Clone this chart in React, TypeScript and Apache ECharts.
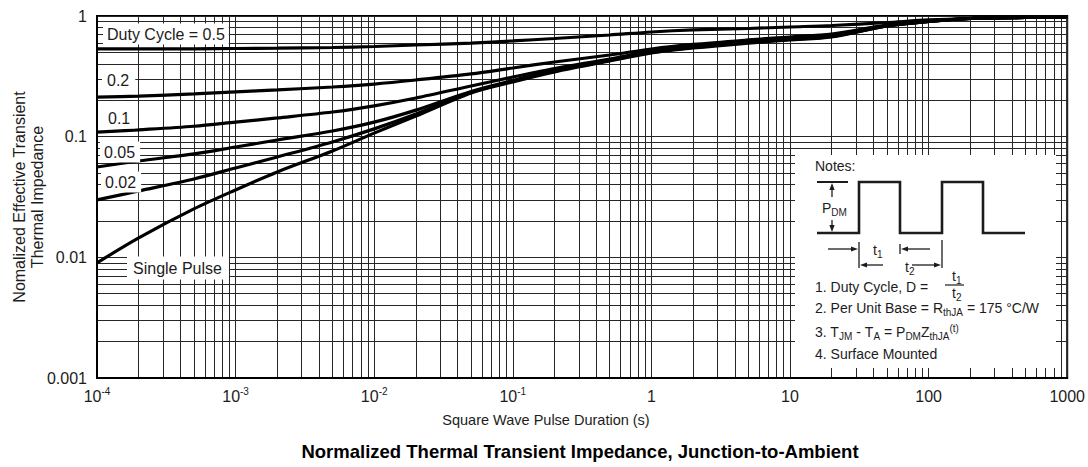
import React, { useEffect, useRef } from 'react';
import * as echarts from 'echarts';

// Pulse durations (s) at which the curves were read
const pulseDuration = [1e-4, 2e-4, 5e-4, 1e-3, 2e-3, 5e-3, 1e-2, 2e-2, 5e-2, 0.1, 0.2, 0.5, 1, 2, 5, 10, 20, 50, 100, 200, 500, 1000];

// Normalized effective transient thermal impedance for each duty cycle
const duty050 = [0.533, 0.533, 0.535, 0.538, 0.541, 0.548, 0.559, 0.575, 0.597, 0.621, 0.651, 0.696, 0.737, 0.766, 0.788, 0.811, 0.834, 0.883, 0.927, 0.953, 0.972, 0.981];
const duty020 = [0.213, 0.217, 0.226, 0.235, 0.244, 0.258, 0.273, 0.295, 0.331, 0.371, 0.416, 0.475, 0.533, 0.581, 0.633, 0.670, 0.709, 0.842, 0.909, 0.953, 0.972, 0.981];
const duty010 = [0.109, 0.114, 0.122, 0.132, 0.143, 0.160, 0.180, 0.209, 0.263, 0.312, 0.367, 0.440, 0.513, 0.564, 0.621, 0.657, 0.696, 0.834, 0.900, 0.953, 0.972, 0.981];
const duty005 = [0.0561, 0.0629, 0.0719, 0.0821, 0.0939, 0.1115, 0.132, 0.166, 0.237, 0.292, 0.354, 0.432, 0.503, 0.553, 0.609, 0.645, 0.683, 0.826, 0.900, 0.953, 0.972, 0.981];
const duty002 = [0.0299, 0.0355, 0.0446, 0.0550, 0.0679, 0.0904, 0.116, 0.154, 0.232, 0.289, 0.350, 0.428, 0.498, 0.548, 0.603, 0.639, 0.676, 0.826, 0.900, 0.953, 0.972, 0.981];
const singlePulse = [0.0090, 0.0145, 0.0252, 0.0362, 0.0510, 0.0761, 0.107, 0.148, 0.230, 0.284, 0.344, 0.424, 0.494, 0.543, 0.597, 0.633, 0.670, 0.826, 0.900, 0.953, 0.972, 0.981];

const curveNames = ['Duty Cycle = 0.5', '0.2', '0.1', '0.05', '0.02', 'Single Pulse'];

// Tick labels, indexed by decade exponent offset
const xTickLabels = ['10{sup|-4}', '10{sup|-3}', '10{sup|-2}', '10{sup|-1}', '1', '10', '100', '1000'];
const yTickLabels = ['0.001', '0.01', '0.1', '1'];

const FONT = '"Liberation Sans", Arial, Helvetica, sans-serif';
const INK = '#1c1c1c';
const GRIDC = '#262626';

function txt(x: number, y: number, text: string, extra: any = {}) {
  return {
    type: 'text', x, y, z: 30, silent: true,
    style: {
      text, fill: INK, fontFamily: FONT, fontSize: 14, align: 'left', verticalAlign: 'middle',
      ...extra,
    },
  };
}
function seg(x1: number, y1: number, x2: number, y2: number, w = 1.3) {
  return { type: 'line', z: 30, silent: true, shape: { x1, y1, x2, y2 }, style: { stroke: INK, lineWidth: w } };
}
function head(x: number, y: number, dir: string) {
  const s = 7, h = 2.6;
  let pts: number[][] = [];
  if (dir === 'right') pts = [[x, y], [x - s, y - h], [x - s, y + h]];
  if (dir === 'left') pts = [[x, y], [x + s, y - h], [x + s, y + h]];
  if (dir === 'up') pts = [[x, y], [x - h, y + s], [x + h, y + s]];
  if (dir === 'down') pts = [[x, y], [x - h, y - s], [x + h, y - s]];
  return { type: 'polygon', z: 30, silent: true, shape: { points: pts }, style: { fill: INK } };
}
function curveLabel(x: number, y: number, text: string, pad: number[]) {
  return txt(x, y, text, { fontSize: 16, backgroundColor: '#fff', padding: pad });
}

const subRich = {
  sub: { fontSize: 10, lineHeight: 9, verticalAlign: 'bottom' },
  sup: { fontSize: 10, lineHeight: 9, verticalAlign: 'top' },
};

export default function App() {
  const ref = useRef<HTMLDivElement>(null);
  useEffect(() => {
    const chart = echarts.init(ref.current!, null, { renderer: 'svg' });
    const allCurves = [duty050, duty020, duty010, duty005, duty002, singlePulse];
    const series = allCurves.map((vals, i) => ({
      name: curveNames[i],
      type: 'line',
      data: pulseDuration.map((t, k) => [t, vals[k]]),
      showSymbol: false,
      smooth: 0.3,
      lineStyle: { color: '#000', width: 3.2 },
      z: 5,
    }));

    const graphics: any[] = [
      // curve labels
      curveLabel(103, 34, curveNames[0], [3, 4, 2, 4]),
      curveLabel(102, 80, curveNames[1], [3, 6, 2, 5]),
      curveLabel(104, 118, curveNames[2], [3, 5, 2, 4]),
      curveLabel(100, 152, curveNames[3], [3, 5, 2, 4]),
      curveLabel(101, 182, curveNames[4], [3, 5, 2, 4]),
      curveLabel(127, 268, curveNames[5], [4, 7, 3, 6]),
      // y-axis name
      {
        type: 'text', x: 28, y: 197, rotation: Math.PI / 2, z: 30, silent: true,
        style: {
          text: 'Nomalized Effective Transient\nThermal Impedance', fill: INK, fontFamily: FONT,
          fontSize: 16, lineHeight: 18, align: 'center', verticalAlign: 'middle',
        },
      },
      // x-axis name and title
      txt(546, 420, 'Square Wave Pulse Duration (s)', { fontSize: 14.5, align: 'center' }),
      txt(580, 451, 'Normalized Thermal Transient Impedance, Junction-to-Ambient', {
        fontSize: 18.5, fontWeight: 'bold', align: 'center', fill: '#000',
      }),
      // notes box
      { type: 'rect', z: 25, silent: true, shape: { x: 795, y: 155, width: 261, height: 213 }, style: { fill: '#fff' } },
      txt(815, 166, 'Notes:'),
      {
        type: 'polyline', z: 30, silent: true,
        shape: { points: [[817, 233], [859, 233], [859, 182], [900, 182], [900, 233], [942, 233], [942, 182], [983, 182], [983, 233], [1025, 233]] },
        style: { stroke: INK, lineWidth: 2.6, fill: 'none' },
      },
      seg(817, 182, 848, 182, 2),
      seg(832, 188, 832, 197), head(832, 183, 'up'),
      seg(832, 220, 832, 228), head(832, 232, 'down'),
      txt(822, 208, 'P{sub|DM}', { rich: subRich, lineHeight: 18 }),
      seg(859, 242, 859, 268),
      seg(900, 244, 900, 254),
      seg(942, 240, 942, 268),
      seg(828, 249, 852, 249), head(858, 249, 'right'),
      txt(873, 250, 't{sub|1}', { rich: subRich, lineHeight: 18 }),
      seg(930, 249, 907, 249), head(901, 249, 'left'),
      seg(883, 265, 866, 265), head(860, 265, 'left'),
      txt(905, 267, 't{sub|2}', { rich: subRich, lineHeight: 18 }),
      seg(912, 265, 935, 265), head(941, 265, 'right'),
      txt(815, 287, '1. Duty Cycle, D ='),
      txt(952, 276, 't{sub|1}', { rich: subRich, lineHeight: 18 }),
      seg(945, 285, 964, 285, 1.2),
      txt(952, 293, 't{sub|2}', { rich: subRich, lineHeight: 18 }),
      txt(815, 308, '2. Per Unit Base = R{sub|thJA} = 175 °C/W', { rich: subRich, lineHeight: 18 }),
      txt(815, 332, '3. T{sub|JM} - T{sub|A} = P{sub|DM}Z{sub|thJA}{sup|(t)}', { rich: subRich, lineHeight: 18 }),
      txt(815, 354, '4. Surface Mounted'),
    ];

    const option: any = {
      animation: false,
      backgroundColor: '#fff',
      grid: { left: 97, top: 16, right: 18, bottom: 89, show: true, borderColor: '#000', borderWidth: 2, backgroundColor: 'transparent' },
      xAxis: {
        type: 'log', logBase: 10, min: 1e-4, max: 1000, splitNumber: 7,
        axisLine: { show: true, onZero: false, lineStyle: { color: '#000', width: 2 } },
        axisTick: { show: false },
        minorTick: { show: false, splitNumber: 9 },
        splitLine: { show: true, lineStyle: { color: GRIDC, width: 1 } },
        minorSplitLine: { show: true, lineStyle: { color: GRIDC, width: 1 } },
        axisLabel: {
          margin: 8, color: INK, fontFamily: FONT, fontSize: 16, lineHeight: 20,
          formatter: (v: number) => xTickLabels[Math.round(Math.log10(v)) + 4] ?? '',
          rich: { sup: { fontSize: 10, lineHeight: 10, verticalAlign: 'top', fontFamily: FONT, color: INK } },
        },
      },
      yAxis: {
        type: 'log', logBase: 10, min: 0.001, max: 1, splitNumber: 3,
        axisLine: { show: true, onZero: false, lineStyle: { color: '#000', width: 2 } },
        axisTick: { show: false },
        minorTick: { show: false, splitNumber: 9 },
        splitLine: { show: true, lineStyle: { color: GRIDC, width: 1 } },
        minorSplitLine: { show: true, lineStyle: { color: GRIDC, width: 1 } },
        axisLabel: {
          margin: 10, color: INK, fontFamily: FONT, fontSize: 16,
          formatter: (v: number) => yTickLabels[Math.round(Math.log10(v)) + 3] ?? '',
        },
      },
      series,
      graphic: { elements: graphics },
    };
    chart.setOption(option);
    return () => chart.dispose();
  }, []);
  return <div ref={ref} style={{ position: 'fixed', left: 0, top: 0, width: 1088, height: 467 }} />;
}
